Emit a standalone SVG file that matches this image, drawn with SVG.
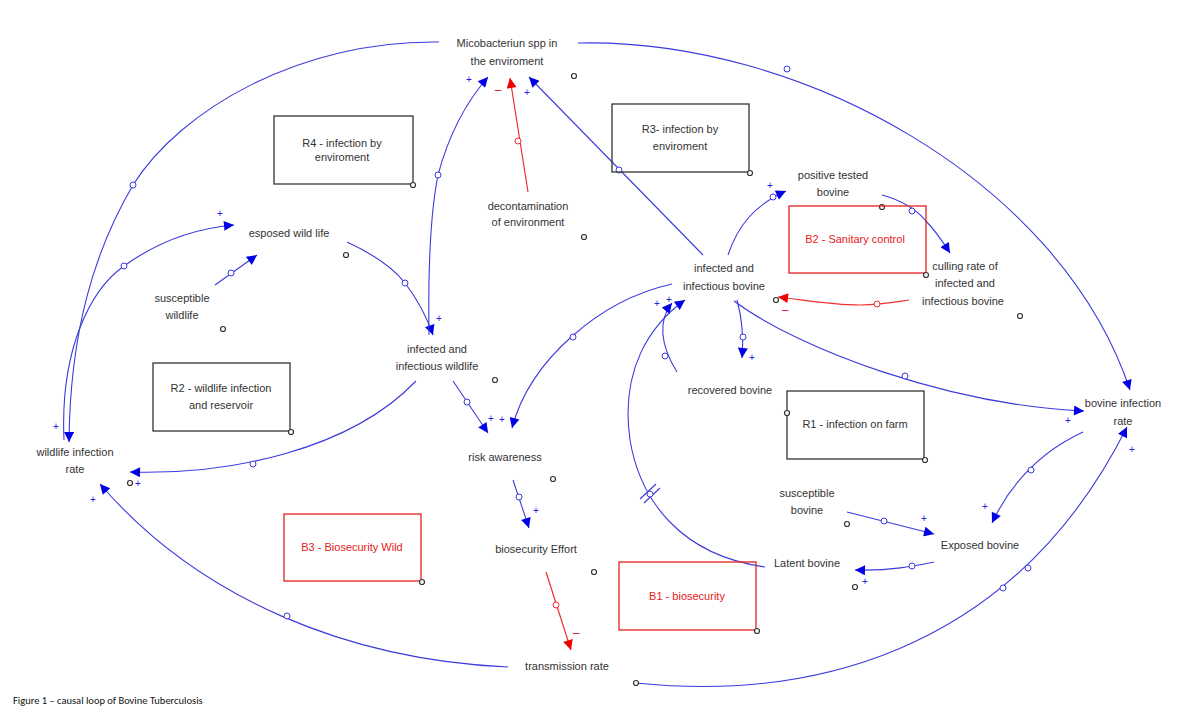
<svg xmlns="http://www.w3.org/2000/svg" width="1193" height="719" viewBox="0 0 1193 719">
<style>
text{font-family:"Liberation Sans","DejaVu Sans",sans-serif;font-size:11px;fill:#333;text-anchor:middle}
.r{fill:#e52020}
.box{fill:none;stroke:#333;stroke-width:1.3}
.rbox{fill:none;stroke:#e52020;stroke-width:1.3}
.l{fill:none;stroke:#3b3bdc;stroke-width:1.1}
.lr{fill:none;stroke:#f03030;stroke-width:1.2}
.c{fill:#fff;stroke:#3b3bdc;stroke-width:1}
.cr{fill:#fff;stroke:#f03030;stroke-width:1}
.k{fill:#fff;stroke:#333;stroke-width:1.2}
.p{fill:#2020e0;font-size:10px}
.m{fill:#e52020;font-size:12px}
</style>
<defs>
<marker id="a" viewBox="0 0 10 10" refX="10" refY="5" markerWidth="14" markerHeight="10" markerUnits="userSpaceOnUse" orient="auto"><path d="M0,0 L10,5 L0,10 z" fill="#0000e6"/></marker>
<marker id="ar" viewBox="0 0 10 10" refX="10" refY="5" markerWidth="14" markerHeight="10" markerUnits="userSpaceOnUse" orient="auto"><path d="M0,0 L10,5 L0,10 z" fill="#f00000"/></marker>
</defs>
<g id="connectors">
<path class="l" d="M578,43 C800,38 1060,180 1130,390" marker-end="url(#a)"/>
<path class="l" d="M439,42 C300,40 180,110 133,185 C95,250 70,330 69,442" marker-end="url(#a)"/>
<path class="l" d="M64,440 C60,350 90,290 124,266 C160,240 200,228 234,225" marker-end="url(#a)"/>
<path class="l" d="M215,285 L257,255" marker-end="url(#a)"/>
<path class="l" d="M347,242 C375,255 395,270 405,283 C418,300 426,315 433,335" marker-end="url(#a)"/>
<path class="l" d="M429,335 C428,270 430,215 438,175 C450,130 468,100 488,77" marker-end="url(#a)"/>
<path class="lr" d="M528,192 L510,78" marker-end="url(#ar)"/>
<path class="l" d="M703,255 L529,77" marker-end="url(#a)"/>
<path class="l" d="M728,255 C738,225 755,205 786,191" marker-end="url(#a)"/>
<path class="l" d="M882,195 C900,200 915,208 925,220 C935,230 943,242 950,253" marker-end="url(#a)"/>
<path class="lr" d="M909,300 C890,303 880,305 860,305 C830,305 805,300 778,297" marker-end="url(#ar)"/>
<path class="l" d="M737,300 C742,318 744,335 742,358" marker-end="url(#a)"/>
<path class="l" d="M677,372 C660,345 658,320 672,303" marker-end="url(#a)"/>
<path class="l" d="M765,567 C680,555 640,500 630,440 C620,370 650,325 685,300" marker-end="url(#a)"/>
<path class="l" d="M672,284 C600,300 530,360 512,428" marker-end="url(#a)"/>
<path class="l" d="M453,381 L488,433" marker-end="url(#a)"/>
<path class="l" d="M734,301 C800,350 950,405 1084,411" marker-end="url(#a)"/>
<path class="l" d="M416,381 C350,450 230,475 130,472" marker-end="url(#a)"/>
<path class="l" d="M513,480 L529,528" marker-end="url(#a)"/>
<path class="lr" d="M546,572 L571,650" marker-end="url(#ar)"/>
<path class="l" d="M508,667 C350,660 200,600 100,484" marker-end="url(#a)"/>
<path class="l" d="M636,683 C800,700 1010,660 1127,427" marker-end="url(#a)"/>
<path class="l" d="M1083,432 C1040,452 1010,485 992,523" marker-end="url(#a)"/>
<path class="l" d="M847,512 L934,534" marker-end="url(#a)"/>
<path class="l" d="M934,562 C915,566 890,571 855,570" marker-end="url(#a)"/>
<path class="l" d="M640,499 L656,484 M644,503 L660,488"/>
<g>
<circle class="c" cx="787" cy="69" r="3"/><circle class="c" cx="133" cy="185" r="3"/>
<circle class="c" cx="124" cy="266" r="3"/><circle class="c" cx="231" cy="273" r="3"/>
<circle class="c" cx="405" cy="283" r="3"/><circle class="c" cx="438" cy="175" r="3"/>
<circle class="cr" cx="518" cy="141" r="3"/><circle class="c" cx="619" cy="170" r="3"/>
<circle class="c" cx="773" cy="197" r="3"/><circle class="c" cx="912" cy="211" r="3"/>
<circle class="cr" cx="877" cy="304" r="3"/><circle class="c" cx="743" cy="337" r="3"/>
<circle class="c" cx="665" cy="356" r="3"/><circle class="c" cx="573" cy="337" r="3"/>
<circle class="c" cx="467" cy="402" r="3"/><circle class="c" cx="905" cy="376" r="3"/>
<circle class="c" cx="253" cy="464" r="3"/><circle class="c" cx="519" cy="497" r="3"/>
<circle class="cr" cx="556" cy="605" r="3"/><circle class="c" cx="287" cy="616" r="3"/>
<circle class="c" cx="1028" cy="568" r="3"/><circle class="c" cx="1003" cy="588" r="3"/>
<circle class="c" cx="1031" cy="470" r="3"/><circle class="c" cx="884" cy="521" r="3"/>
<circle class="c" cx="912" cy="566" r="3"/><circle class="c" cx="650" cy="494" r="3"/>
</g>
<g>
<text class="p" x="220" y="217">+</text><text class="p" x="439" y="322">+</text>
<text class="p" x="469" y="83">+</text><text class="m" x="498" y="94">–</text>
<text class="p" x="527" y="96">+</text><text class="p" x="770" y="189">+</text>
<text class="m" x="785" y="314">–</text><text class="p" x="752" y="361">+</text>
<text class="p" x="657" y="307">+</text><text class="p" x="669" y="303">+</text>
<text class="p" x="491" y="422">+</text><text class="p" x="502" y="423">+</text>
<text class="p" x="1068" y="424">+</text><text class="p" x="536" y="514">+</text>
<text class="m" x="576" y="637">–</text><text class="p" x="93" y="503">+</text>
<text class="p" x="138" y="487">+</text><text class="p" x="56" y="430">+</text>
<text class="p" x="1132" y="453">+</text><text class="p" x="985" y="510">+</text>
<text class="p" x="924" y="522">+</text><text class="p" x="865" y="585">+</text>
</g>
</g>
<g id="mico"><text x="507" y="47">Micobacteriun spp in</text><text x="507" y="65">the enviroment</text><circle class="k" cx="574" cy="76" r="2.5"/></g>
<g id="r4"><rect class="box" x="274" y="116" width="139" height="68"/><text x="342" y="147">R4 - infection by</text><text x="342" y="161">enviroment</text><circle class="k" cx="413" cy="185" r="2.5"/></g>
<g id="r3"><rect class="box" x="612" y="104" width="137" height="68"/><text x="680" y="133">R3- infection by</text><text x="680" y="150">enviroment</text><circle class="k" cx="750" cy="173" r="2.5"/></g>
<g id="decon"><text x="528" y="210">decontamination</text><text x="528" y="226">of environment</text><circle class="k" cx="584" cy="237" r="2.5"/></g>
<g id="esposed"><text x="289" y="237">esposed wild life</text><circle class="k" cx="346" cy="255" r="2.5"/></g>
<g id="suswild"><text x="182" y="302">susceptible</text><text x="182" y="319">wildlife</text><circle class="k" cx="223" cy="329" r="2.5"/></g>
<g id="infwild"><text x="437" y="353">infected and</text><text x="437" y="370">infectious wildlife</text><circle class="k" cx="495" cy="380" r="2.5"/></g>
<g id="r2"><rect class="box" x="153" y="363" width="137" height="68"/><text x="221" y="392">R2 - wildlife infection</text><text x="221" y="409">and reservoir</text><circle class="k" cx="291" cy="432" r="2.5"/></g>
<g id="wildrate"><text x="75" y="456">wildlife infection</text><text x="75" y="473">rate</text><circle class="k" cx="130" cy="483" r="2.5"/></g>
<g id="risk"><text x="505" y="461">risk awareness</text><circle class="k" cx="553" cy="479" r="2.5"/></g>
<g id="bioeff"><text x="536" y="553">biosecurity Effort</text><circle class="k" cx="594" cy="572" r="2.5"/></g>
<g id="trans"><text x="567" y="670">transmission rate</text><circle class="k" cx="636" cy="683" r="2.5"/></g>
<g id="b3"><rect class="rbox" x="284" y="514" width="137" height="67"/><text class="r" x="352" y="551">B3 - Biosecurity Wild</text><circle class="k" cx="422" cy="582" r="2.5"/></g>
<g id="postest"><text x="833" y="179">positive tested</text><text x="833" y="196">bovine</text><circle class="k" cx="882" cy="207" r="2.5"/></g>
<g id="b2"><rect class="rbox" x="789" y="206" width="137" height="67"/><text class="r" x="855" y="243">B2 - Sanitary control</text><circle class="k" cx="926" cy="275" r="2.5"/></g>
<g id="culling"><text x="965" y="270">culling rate of</text><text x="965" y="287">infected and</text><text x="963" y="305">infectious bovine</text><circle class="k" cx="1020" cy="316" r="2.5"/></g>
<g id="infbov"><text x="724" y="272">infected and</text><text x="724" y="290">infectious bovine</text><circle class="k" cx="776" cy="300" r="2.5"/></g>
<g id="recov"><text x="730" y="394">recovered bovine</text></g>
<g id="r1"><rect class="box" x="787" y="391" width="137" height="68"/><text x="855" y="428">R1 - infection on farm</text><circle class="k" cx="787" cy="413" r="2.5"/><circle class="k" cx="925" cy="460" r="2.5"/></g>
<g id="bovrate"><text x="1123" y="407">bovine infection</text><text x="1123" y="425">rate</text></g>
<g id="susbov"><text x="807" y="497">susceptible</text><text x="807" y="514">bovine</text><circle class="k" cx="847" cy="524" r="2.5"/></g>
<g id="exposed"><text x="980" y="549">Exposed bovine</text></g>
<g id="latent"><text x="807" y="567">Latent bovine</text><circle class="k" cx="855" cy="587" r="2.5"/></g>
<g id="b1"><rect class="rbox" x="619" y="562" width="137" height="68"/><text class="r" x="687" y="600">B1 - biosecurity</text><circle class="k" cx="757" cy="631" r="2.5"/></g>
<text x="13" y="704" style="text-anchor:start;font-family:Carlito,'Liberation Sans',sans-serif;font-size:10.5px;fill:#111">Figure 1 – causal loop of Bovine Tuberculosis</text>
</svg>
